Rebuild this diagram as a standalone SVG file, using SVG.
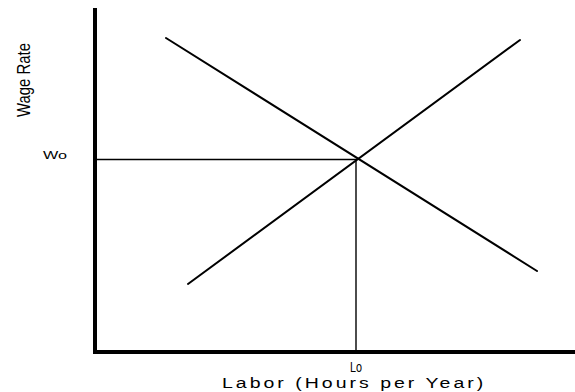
<svg xmlns="http://www.w3.org/2000/svg" width="575" height="392" viewBox="0 0 575 392">
<style>
.axis{stroke:#000;stroke-width:4;fill:none}
.guide{stroke:#000;stroke-width:1.4;fill:none}
.curve{stroke:#000;stroke-width:2;fill:none;stroke-linecap:round}
.lbl{font-family:"Liberation Sans",Arial,sans-serif;fill:#000}
</style>
<rect width="575" height="392" fill="#fff"/>
<g id="axes">
<line class="axis" x1="95" y1="8" x2="95" y2="352"/>
<line class="axis" x1="93" y1="352" x2="575" y2="352"/>
</g>
<g id="connectors">
<line class="guide" x1="97" y1="159.5" x2="357" y2="159.5"/>
<line class="guide" x1="356" y1="159" x2="356" y2="351"/>
<line id="demand" class="curve" x1="166" y1="38" x2="537" y2="271"/>
<line id="supply" class="curve" x1="188" y1="284" x2="520" y2="40"/>
</g>
<g id="labels">
<text class="lbl" font-size="19" transform="translate(30,117) rotate(-90)" textLength="74" lengthAdjust="spacingAndGlyphs">Wage Rate</text>
<text class="lbl" x="43" y="159" font-size="10" textLength="24" lengthAdjust="spacingAndGlyphs">Wo</text>
<text class="lbl" x="350" y="372" font-size="14" textLength="12" lengthAdjust="spacingAndGlyphs">Lo</text>
<text class="lbl" font-size="15" transform="translate(222,388) scale(1.3,1)" textLength="201" lengthAdjust="spacing">Labor (Hours per Year)</text>
</g>
</svg>
